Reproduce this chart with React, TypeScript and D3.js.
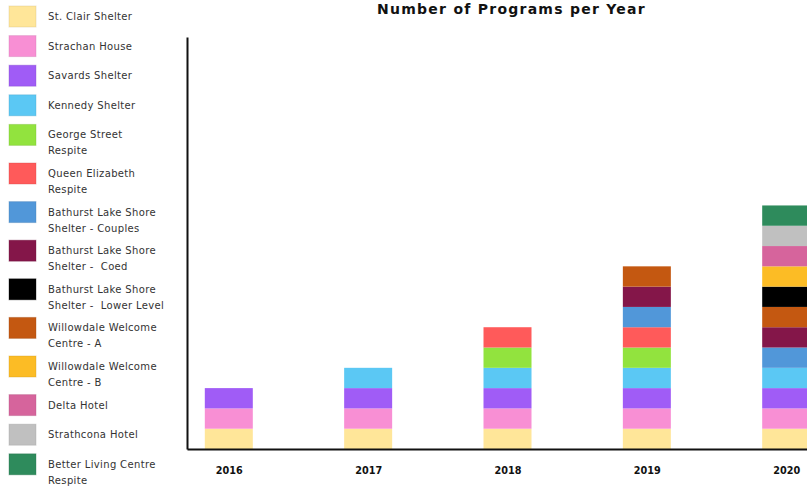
import { useEffect, useRef } from "react";
import * as d3 from "d3";

const years = ["2016", "2017", "2018", "2019", "2020"];

const programs = [
  "St. Clair Shelter",
  "Strachan House",
  "Savards Shelter",
  "Kennedy Shelter",
  "George Street Respite",
  "Queen Elizabeth Respite",
  "Bathurst Lake Shore Shelter - Couples",
  "Bathurst Lake Shore Shelter -  Coed",
  "Bathurst Lake Shore Shelter -  Lower Level",
  "Willowdale Welcome Centre - A",
  "Willowdale Welcome Centre - B",
  "Delta Hotel",
  "Strathcona Hotel",
  "Better Living Centre Respite",
];

const colors = [
  "#ffe699",
  "#f88fd4",
  "#a05cf6",
  "#5bc8f4",
  "#92e33e",
  "#ff5a5a",
  "#5197d9",
  "#841649",
  "#000000",
  "#c45811",
  "#fcbc25",
  "#d6649c",
  "#c0c0c0",
  "#2e8b5c",
];

// order of the segments inside a bar (bottom to top)
const stackOrder = [
  "St. Clair Shelter",
  "Strachan House",
  "Savards Shelter",
  "Kennedy Shelter",
  "George Street Respite",
  "Queen Elizabeth Respite",
  "Bathurst Lake Shore Shelter - Couples",
  "Bathurst Lake Shore Shelter -  Coed",
  "Willowdale Welcome Centre - A",
  "Bathurst Lake Shore Shelter -  Lower Level",
  "Willowdale Welcome Centre - B",
  "Delta Hotel",
  "Strathcona Hotel",
  "Better Living Centre Respite",
];

// programs per year, same order as `programs`
const counts2016 = [1, 1, 1, 0, 0, 0, 0, 0, 0, 0, 0, 0, 0, 0];
const counts2017 = [1, 1, 1, 1, 0, 0, 0, 0, 0, 0, 0, 0, 0, 0];
const counts2018 = [1, 1, 1, 1, 1, 1, 0, 0, 0, 0, 0, 0, 0, 0];
const counts2019 = [1, 1, 1, 1, 1, 1, 1, 1, 0, 1, 0, 0, 0, 0];
const counts2020 = [1, 1, 1, 1, 0, 0, 1, 1, 1, 1, 1, 1, 1, 1];

const yMax = 20.3;

export default function App() {
  const svgRef = useRef<SVGSVGElement>(null);

  useEffect(() => {
    if (!svgRef.current) return;
    const W = 807;
    const H = 490;
    const svg = d3.select(svgRef.current).attr("width", W).attr("height", H);
    svg.selectAll("*").remove();

    const allCounts = [counts2016, counts2017, counts2018, counts2019, counts2020];
    const table = years.map((yr, i) => {
      const row: any = { year: yr };
      programs.forEach((p, j) => (row[p] = allCounts[i][j]));
      return row;
    });
    const color = d3.scaleOrdinal<string, string>().domain(programs).range(colors);

    const x = d3.scalePoint<string>().domain(years).range([187, 828]).padding(0.3);
    const y = d3.scaleLinear().domain([0, yMax]).range([449, 37]);
    const barW = 48;

    const series = d3.stack<any>().keys(stackOrder)(table);

    // bars
    svg.append("g")
      .selectAll("g")
      .data(series)
      .enter().append("g")
      .attr("fill", (s) => color(s.key))
      .selectAll("rect")
      .data((s) => s.filter((d) => d[1] - d[0] > 0))
      .enter().append("rect")
      .attr("x", (d) => (x(d.data.year) ?? 0) - barW / 2)
      .attr("y", (d) => y(d[1]))
      .attr("width", barW)
      .attr("height", (d) => y(d[0]) - y(d[1]));

    // y axis (line only)
    svg.append("g")
      .attr("transform", `translate(187,0)`)
      .call(d3.axisLeft(y).ticks(0).tickSizeOuter(0))
      .call((g) => g.select(".domain").attr("stroke", "#111").attr("stroke-width", 2));

    // x axis
    svg.append("g")
      .attr("transform", `translate(0,449)`)
      .call(d3.axisBottom(x).tickSize(0).tickPadding(18))
      .call((g) => g.select(".domain").attr("stroke", "#111").attr("stroke-width", 2))
      .call((g) =>
        g.selectAll(".tick text")
          .attr("fill", "#111")
          .attr("font-size", "9.7px")
          .attr("font-weight", "700")
          .attr("font-family", "DejaVu Sans")
      );

    // title
    svg.append("text")
      .attr("x", 511.5)
      .attr("y", 14)
      .attr("text-anchor", "middle")
      .attr("font-family", "DejaVu Sans")
      .attr("font-weight", "700")
      .attr("font-size", "14px")
      .attr("letter-spacing", "1.25px")
      .attr("fill", "#111")
      .text("Number of Programs per Year");

    // legend with wrapped labels
    const legend = svg.append("g");
    let rowY = 6;
    programs.forEach((p) => {
      const item = legend.append("g").attr("transform", `translate(0,${rowY})`);
      const c = color(p);
      item.append("rect")
        .attr("x", 9).attr("y", 0)
        .attr("width", 27).attr("height", 21)
        .attr("fill", c)
        .attr("stroke", d3.color(c)!.darker(0.6).toString())
        .attr("stroke-opacity", 0.35);

      const text = item.append("text")
        .attr("x", 48)
        .attr("y", 14)
        .attr("font-family", "DejaVu Sans")
        .attr("font-size", "10px")
        .attr("letter-spacing", "0.35px")
        .attr("fill", "#333")
        .style("white-space", "pre");

      const words = p.split(" ");
      const lines: string[] = [];
      let cur = "";
      const probe = text.append("tspan").attr("x", 48);
      words.forEach((w) => {
        const cand = cur === "" ? w : cur + " " + w;
        probe.text(cand);
        if ((probe.node() as SVGTSpanElement).getComputedTextLength() > 117 && cur !== "") {
          lines.push(cur);
          cur = w;
        } else {
          cur = cand;
        }
      });
      lines.push(cur);
      probe.remove();
      lines.forEach((l, k) => {
        text.append("tspan").attr("x", 48).attr("dy", k === 0 ? 0 : 16).text(l);
      });
      rowY += 29.6 + 9 * (lines.length - 1);
    });
  }, []);

  return (
    <div style={{ position: "absolute", left: 0, top: 0 }}>
      <svg ref={svgRef} style={{ display: "block" }} />
    </div>
  );
}
